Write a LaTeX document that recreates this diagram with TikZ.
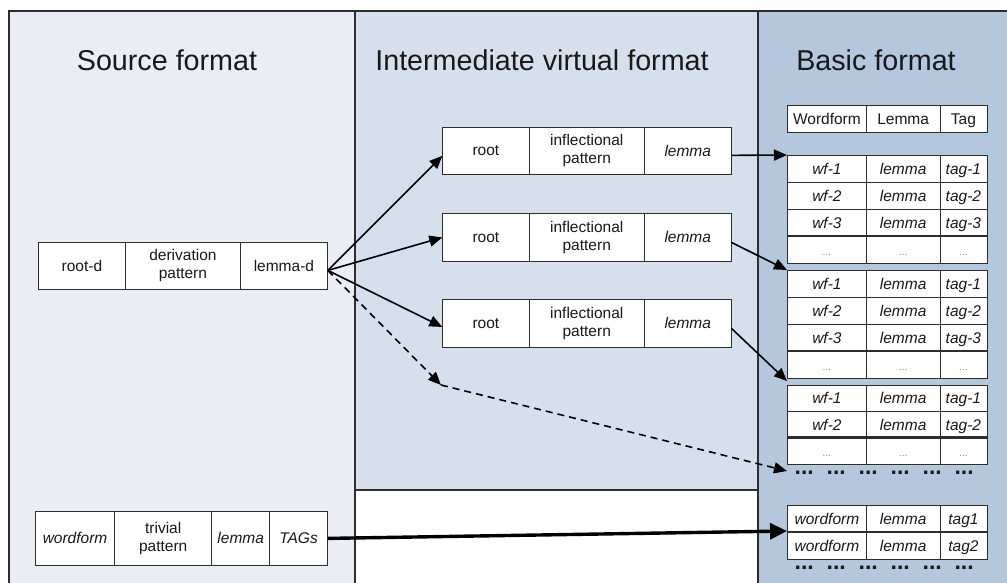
\documentclass[tikz,border=0pt]{standalone}
\usepackage{fontspec}
\setmainfont{Liberation Sans}
\usetikzlibrary{arrows.meta}
\definecolor{srcbg}{RGB}{234,238,244}
\definecolor{midbg}{RGB}{214,224,236}
\definecolor{basbg}{RGB}{180,199,221}
\definecolor{edge}{RGB}{45,45,45}
\definecolor{ink}{RGB}{25,25,25}
\newcommand{\tblrow}[6]{%
  \node[tcell, minimum width=79pt, minimum height=#3pt] (#1a) at (787,#2) {#4};
  \node[tcell, minimum width=73.5pt, minimum height=#3pt] (#1b) at (866,#2) {#5};
  \node[tcell, minimum width=47pt, minimum height=#3pt] (#1c) at (939.5,#2) {#6};
}
\newcommand{\infrow}[2]{%
  \node[cell, minimum width=86.4pt, minimum height=47.5pt] (#1a) at (442.3,#2) {root};
  \node[cell, minimum width=115.3pt, minimum height=47.5pt] (#1b) at (528.7,#2) {inflectional\\pattern};
  \node[cell, minimum width=86.7pt, minimum height=47.5pt] (#1c) at (644,#2) {\textit{lemma}};
}
\newcommand{\elli}{{\color{gray}\fontsize{10}{10}\selectfont ...}}
\newcommand{\dotrow}{...\hspace{12.8pt}...\hspace{12.8pt}...\hspace{12.8pt}...\hspace{12.8pt}...\hspace{12.8pt}...}
\begin{document}
\begin{tikzpicture}[x=1pt,y=-1pt,
  panel/.style={draw=edge, line width=1.8pt},
  cell/.style={draw=edge, fill=white, line width=0.8pt, inner sep=0pt, anchor=north west,
    font=\fontsize{15.5}{18}\selectfont, text=ink, align=center},
  tcell/.style={cell, text height=13pt, text depth=1.5pt},
  title/.style={font=\fontsize{28.7}{32}\selectfont, text=ink, anchor=base, inner sep=0pt},
  dots/.style={font=\bfseries\fontsize{23}{23}\selectfont, text=ink, anchor=base west, inner sep=0pt},
  sep/.style={draw=edge, line width=2.4pt},
  arr/.style={draw=black, line width=1.6pt, -{Triangle[length=13pt,width=11pt]}},
  darr/.style={arr, dash pattern=on 7pt off 5pt},
  barr/.style={draw=black, line width=3.4pt, -{Triangle[length=17pt,width=16pt]}}
]
\useasboundingbox (0,0) rectangle (1007,583);
\clip (0,0) rectangle (1007,583);
% panels
\fill[white] (0,0) rectangle (1007,583);
\draw[panel, fill=srcbg] (9,11) rectangle (355,600);
\draw[panel, fill=basbg] (758,11) rectangle (1020,600);
\draw[panel, fill=midbg] (355,11) rectangle (758,490);
\draw[panel, fill=white] (355,490) rectangle (758,600);
% titles
\node[title] (tsrc) at (167,71) {Source format};
\node[title] (tmid) at (542,71) {Intermediate virtual format};
\node[title] (tbas) at (876,71) {Basic format};
% source boxes
\node[cell, minimum width=87pt, minimum height=47pt] (sd1) at (38,242) {root-d};
\node[cell, minimum width=115pt, minimum height=47pt] (sd2) at (125,242) {derivation\\pattern};
\node[cell, minimum width=87pt, minimum height=47pt] (sd3) at (240,242) {lemma-d};
\node[cell, minimum width=79.3pt, minimum height=54pt] (tg1) at (35,511) {\textit{wordform}};
\node[cell, minimum width=97pt, minimum height=54pt] (tg2) at (114.3,511) {trivial\\pattern};
\node[cell, minimum width=58pt, minimum height=54pt] (tg3) at (211.3,511) {\textit{lemma}};
\node[cell, minimum width=57.7pt, minimum height=54pt] (tg4) at (269.3,511) {\textit{TAGs}};
% intermediate boxes
\infrow{ra}{126.7}
\infrow{rb}{213.3}
\infrow{rc}{299.3}
% basic tables
\tblrow{h}{105.3}{27}{Wordform}{Lemma}{Tag}
\tblrow{pa}{155}{27}{\textit{wf-1}}{\textit{lemma}}{\textit{tag-1}}
\tblrow{pb}{182}{27}{\textit{wf-2}}{\textit{lemma}}{\textit{tag-2}}
\tblrow{pc}{209}{27}{\textit{wf-3}}{\textit{lemma}}{\textit{tag-3}}
\tblrow{pd}{236}{27}{\elli}{\elli}{\elli}
\tblrow{qa}{270}{27}{\textit{wf-1}}{\textit{lemma}}{\textit{tag-1}}
\tblrow{qb}{297}{27}{\textit{wf-2}}{\textit{lemma}}{\textit{tag-2}}
\tblrow{qc}{324}{27}{\textit{wf-3}}{\textit{lemma}}{\textit{tag-3}}
\tblrow{qd}{351}{27}{\elli}{\elli}{\elli}
\tblrow{sa}{384.5}{26.5}{\textit{wf-1}}{\textit{lemma}}{\textit{tag-1}}
\tblrow{sb}{411}{26.5}{\textit{wf-2}}{\textit{lemma}}{\textit{tag-2}}
\tblrow{sc}{437.5}{26.5}{\elli}{\elli}{\elli}
\tblrow{ba}{505}{27}{\textit{wordform}}{\textit{lemma}}{\textit{tag1}}
\tblrow{bb}{532}{27}{\textit{wordform}}{\textit{lemma}}{\textit{tag2}}
\draw[sep] (pda.north west) -- (pdc.north east);
\draw[sep] (qda.north west) -- (qdc.north east);
\draw[sep] (sca.north west) -- (scc.north east);
\draw[sep] (bba.north west) -- (bbc.north east);
\node[dots] (dotsa) at (794.5,474) {\dotrow};
\node[dots] (dotsb) at (794.5,569) {\dotrow};
% connectors
\coordinate (fan) at ([yshift=-4.5pt]sd3.east);
\coordinate (dmid) at (441,385);
\coordinate (dend) at (787,471);
\draw[arr] (fan) -- ([yshift=-5pt]raa.west);
\draw[arr] (fan) -- (rba.west);
\draw[arr] (fan) -- ([yshift=-3.5pt]rca.west);
\draw[darr] (fan) -- (dmid);
\draw[darr] (dmid) -- (dend);
\draw[arr] ([yshift=-4.5pt]rac.east) -- (paa.north west);
\draw[arr] ([yshift=-5pt]rbc.east) -- (qaa.north west);
\draw[arr] ([yshift=-5pt]rcc.east) -- ([yshift=3.5pt]saa.north west);
\draw[barr] (tg4.east) -- ([yshift=1pt]bba.north west);
\end{tikzpicture}
\end{document}
